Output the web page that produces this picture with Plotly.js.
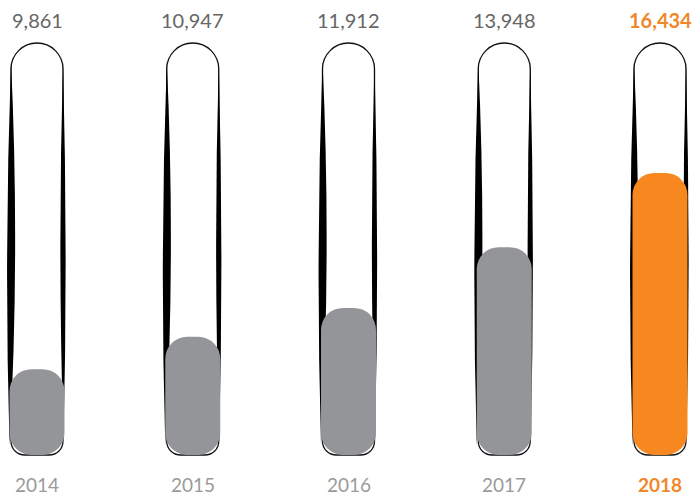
<!DOCTYPE html>
<html>
<head>
<meta charset="utf-8">
<script src="https://cdn.plot.ly/plotly-3.0.1.min.js"></script>
<style>html,body{margin:0;padding:0;background:#fff;}#chart{width:700px;height:495px;}#err{position:absolute;top:100px;left:10px;font:12px monospace;color:red;}</style>
</head>
<body>
<div id="chart"></div>
<div id="err"></div>
<script>
// ---- data ----
const years = ['2014', '2015', '2016', '2017', '2018'];
const values = [9861, 10947, 11912, 13948, 16434];
const highlight = [false, false, false, false, true];

// ---- style ----
const GRAY = '#939598';
const ORANGE = '#F6881F';
const fillColors = highlight.map(h => h ? ORANGE : GRAY);
const valueColors = highlight.map(h => h ? '#F0882A' : '#666666');
const yearColors = highlight.map(h => h ? '#F0882A' : '#9a9a9a');

const TUBE_BASE = 6985;
const PX_PER_UNIT = 0.02985;
const H = 495;
const yMin = TUBE_BASE - 40 / PX_PER_UNIT;
const yMax = yMin + H / PX_PER_UNIT;

const xs = years.map((_, i) => i);

const fill = {
  type: 'bar', x: xs, base: xs.map(() => TUBE_BASE),
  y: values.map(v => v - TUBE_BASE),
  width: 0.353,
  marker: {color: fillColors, cornerradius: 22, line: {width: 0}},
  hoverinfo: 'skip', showlegend: false
};

const k = 14.36;
const tubePath = 'M -26,14 L -26,386 C -26,' + (386 + k) + ' -' + k + ',412 0,412 C ' + k + ',412 26,' + (386 + k) + ' 26,386 L 26,14 ' +
  'C 26,6 20,0 12,0 L -12,0 C -20,0 -26,6 -26,14 Z';
const leftStroke = 'M -26,394 Q -33,200 -27.5,10 Q -17,200 -26,394 Z';
const rightStroke = 'M 26,394 Q 31,200 26.5,14 Q 20.5,200 26,394 Z';
const shapes = [];
xs.forEach(xi => {
  const common = {xref: 'x', yref: 'y', xsizemode: 'pixel', ysizemode: 'pixel', xanchor: xi, yanchor: TUBE_BASE, layer: 'below'};
  shapes.push(Object.assign({type: 'path', path: tubePath, line: {color: '#111', width: 1.3}, fillcolor: 'rgba(0,0,0,0)'}, common));
  shapes.push(Object.assign({type: 'path', path: leftStroke, line: {width: 0}, fillcolor: '#000'}, common));
  shapes.push(Object.assign({type: 'path', path: rightStroke, line: {width: 0}, fillcolor: '#000'}, common));
});

const annotations = [];
xs.forEach((xi, i) => {
  const v = values[i].toLocaleString('en-US');
  annotations.push({x: xi, xref: 'x', y: 1 - 20 / H, yref: 'paper', yanchor: 'middle', showarrow: false,
    text: highlight[i] ? '<b>' + v + '</b>' : v,
    font: {family: 'Lato, sans-serif', size: 20, color: valueColors[i]}});
  annotations.push({x: xi, xref: 'x', y: 11 / H, yref: 'paper', yanchor: 'middle', showarrow: false,
    text: highlight[i] ? '<b>' + years[i] + '</b>' : years[i],
    font: {family: 'Lato, sans-serif', size: 19, color: yearColors[i]}});
});

const spacing = 155.75, first = 37;
const layout = {
  width: 700, height: 495,
  margin: {l: 0, r: 0, t: 0, b: 0},
  paper_bgcolor: '#fff', plot_bgcolor: 'rgba(0,0,0,0)',
  barmode: 'overlay',
  xaxis: {range: [-first / spacing, (700 - first) / spacing], visible: false, fixedrange: true},
  yaxis: {range: [yMin, yMax], visible: false, fixedrange: true},
  shapes: shapes,
  annotations: annotations,
  showlegend: false
};
try {
  Plotly.newPlot('chart', [fill], layout, {displayModeBar: false, staticPlot: true})
    .catch(e => { document.getElementById('err').textContent = 'P:' + e; });
} catch (e) { document.getElementById('err').textContent = 'E:' + e; }
</script>
</body>
</html>
